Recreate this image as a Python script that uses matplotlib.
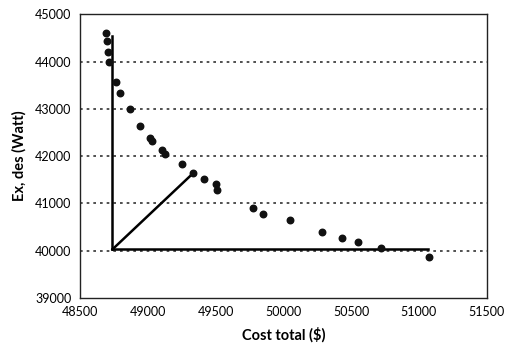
import matplotlib.pyplot as plt

# Pareto points
cost = [48692, 48697, 48706, 48712, 48765, 48795, 48868, 48944, 49020, 49034,
        49108, 49130, 49250, 49335, 49415, 49502, 49511, 49775, 49852, 50048,
        50287, 50435, 50549, 50722, 51074]
exergy = [44611, 44425, 44209, 43998, 43558, 43336, 42992, 42645, 42380, 42330,
          42140, 42040, 41842, 41635, 41518, 41413, 41286, 40912, 40778, 40658,
          40387, 40260, 40180, 40053, 39863]

# reference lines (vertical, horizontal, diagonal)
vert_x = [48735, 48735]
vert_y = [44550, 40030]
horiz_x = [48735, 51065]
horiz_y = [40030, 40030]
diag_x = [48740, 49335]
diag_y = [40030, 41640]

fig = plt.figure(figsize=(5.14, 3.48), dpi=100)
ax = fig.add_axes([0.1556, 0.1437, 0.7914, 0.8153])

for yv in [40000, 41000, 42000, 43000, 44000]:
    ax.axhline(yv, color='#333333', lw=1.2, ls=(0, (1.6, 2.4)), zorder=1)

ax.plot(vert_x, vert_y, color='black', lw=1.8, zorder=2)
ax.plot(horiz_x, horiz_y, color='black', lw=1.8, zorder=2)
ax.plot(diag_x, diag_y, color='black', lw=1.8, zorder=2)
ax.scatter(cost, exergy, s=22, color='#111111', zorder=3)

ax.set_xlim(48500, 51500)
ax.set_ylim(39000, 45000)
ax.set_xticks([48500, 49000, 49500, 50000, 50500, 51000, 51500])
ax.set_yticks([39000, 40000, 41000, 42000, 43000, 44000, 45000])
ax.tick_params(axis='x', length=0, labelsize=9, pad=6)
ax.tick_params(axis='y', length=0, labelsize=9, pad=6)
for lab in ax.get_xticklabels() + ax.get_yticklabels():
    lab.set_family('Lato')
for s in ax.spines.values():
    s.set_linewidth(1.0)
    s.set_color('#222222')

ax.set_xlabel('Cost total ($)', fontsize=10.5, fontweight='bold', family='Lato', labelpad=6)
ax.set_ylabel('Ex, des (Watt)', fontsize=10.5, fontweight='bold', family='Lato', labelpad=6)

plt.savefig('out.png', dpi=100)
